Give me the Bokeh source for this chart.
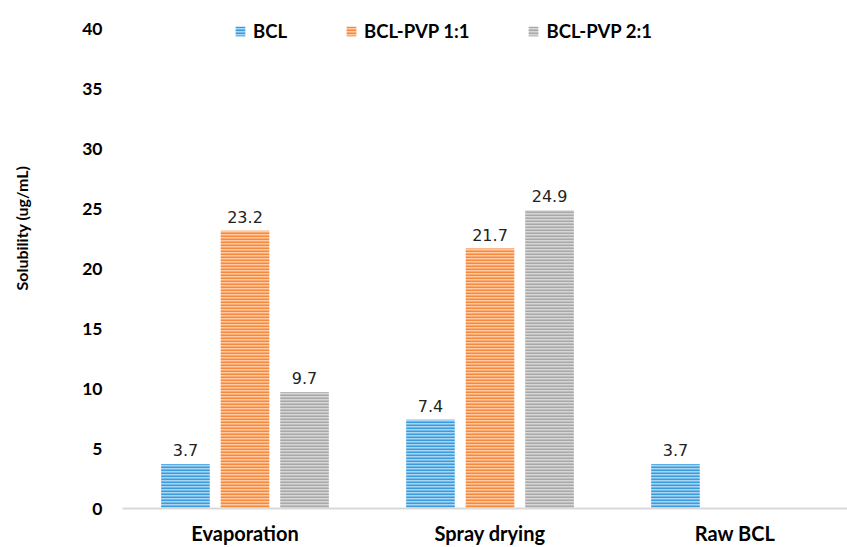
from bokeh.plotting import figure
from bokeh.models import ColumnDataSource, FixedTicker, Legend, LegendItem, Range1d, Title
from bokeh.core.properties import value
from bokeh.embed import file_html
from bokeh.resources import INLINE

categories = ["Evaporation", "Spray drying", "Raw BCL"]
series = ["BCL", "BCL-PVP 1:1", "BCL-PVP 2:1"]
bcl = [3.7, 7.4, 3.7]
pvp11 = [23.2, 21.7, None]
pvp21 = [9.7, 24.9, None]
y_ticks = [0, 5, 10, 15, 20, 25, 30, 35, 40]

fills = ["#A9D5F3", "#FCCAA4", "#D6D6D6"]
hatches = ["#3A9CDC", "#F8893B", "#A9A9A9"]
offsets = [-0.243, 0.0, 0.243]
bar_w = 0.198

# frame: left 122px, top 12px, bottom 510px; 245px per category, ~12.025px per unit
p = figure(width=847, height=547, output_backend="svg", toolbar_location=None,
           x_range=Range1d(0, 725 / 245), y_range=Range1d(0, 498 / 12.025),
           min_border_left=122, min_border_right=0, min_border_top=12, min_border_bottom=37)
p.outline_line_color = None
p.xgrid.visible = False
p.ygrid.visible = False
p.background_fill_color = "white"
p.border_fill_color = "white"

items = []
for k, (name, vals) in enumerate(zip(series, [bcl, pvp11, pvp21])):
    xs, ys, labels = [], [], []
    for i, v in enumerate(vals):
        if v is None:
            continue
        xs.append(i + 0.5 + offsets[k])
        ys.append(v)
        labels.append(f"{v:.1f}")
    src = ColumnDataSource(dict(x=xs, top=ys, label=labels))
    r = p.vbar(x="x", top="top", width=bar_w, source=src,
               fill_color=fills[k], line_color=None,
               hatch_pattern="horizontal_line", hatch_color=hatches[k],
               hatch_scale=3, hatch_weight=2)
    p.text(x="x", y="top", text="label", source=src, y_offset=-8,
           text_align="center", text_baseline="bottom",
           text_font=value("DejaVu Sans"), text_font_size="16px", text_color="#222222")
    items.append(LegendItem(label=name, renderers=[r]))

legend = Legend(items=items, orientation="horizontal", location=(112, 466),
                spacing=58, glyph_width=12, glyph_height=12, label_standoff=7,
                padding=0, margin=0, border_line_color=None, background_fill_alpha=0,
                label_text_font="Lato", label_text_font_style="bold",
                label_text_font_size="18.5px", label_text_color="#000000")
p.add_layout(legend)

# x axis
p.xaxis.ticker = FixedTicker(ticks=[i + 0.5 for i in range(len(categories))])
p.xaxis.major_label_overrides = {i + 0.5: c for i, c in enumerate(categories)}
p.xaxis.major_tick_line_color = None
p.xaxis.major_tick_out = 0
p.xaxis.major_tick_in = 0
p.xaxis.minor_tick_line_color = None
p.xaxis.axis_line_color = "#D9D9D9"
p.xaxis.axis_line_width = 2
p.xaxis.major_label_standoff = 12
p.xaxis.major_label_text_font = "Lato"
p.xaxis.major_label_text_font_style = "bold"
p.xaxis.major_label_text_font_size = "20px"
p.xaxis.major_label_text_color = "#000000"

# y axis
p.yaxis.ticker = FixedTicker(ticks=y_ticks)
p.yaxis.axis_line_color = None
p.yaxis.major_tick_line_color = None
p.yaxis.major_tick_out = 0
p.yaxis.major_tick_in = 0
p.yaxis.minor_tick_line_color = None
p.yaxis.major_label_standoff = 20
p.yaxis.major_label_text_font = "Lato"
p.yaxis.major_label_text_font_style = "bold"
p.yaxis.major_label_text_font_size = "17.5px"
p.yaxis.major_label_text_color = "#000000"
# spacer so the axis title sits further left
p.yaxis.axis_label = "\u00a0"
p.yaxis.axis_label_text_font_size = "1px"
p.yaxis.axis_label_standoff = 45

ytitle = Title(text="Solubility (ug/mL)", align="left", offset=218, standoff=0,
               vertical_align="bottom",
               text_font="Lato", text_font_style="bold", text_font_size="16px",
               text_color="#000000")
p.add_layout(ytitle, "left")

open("out.html", "w").write(file_html(p, INLINE))
